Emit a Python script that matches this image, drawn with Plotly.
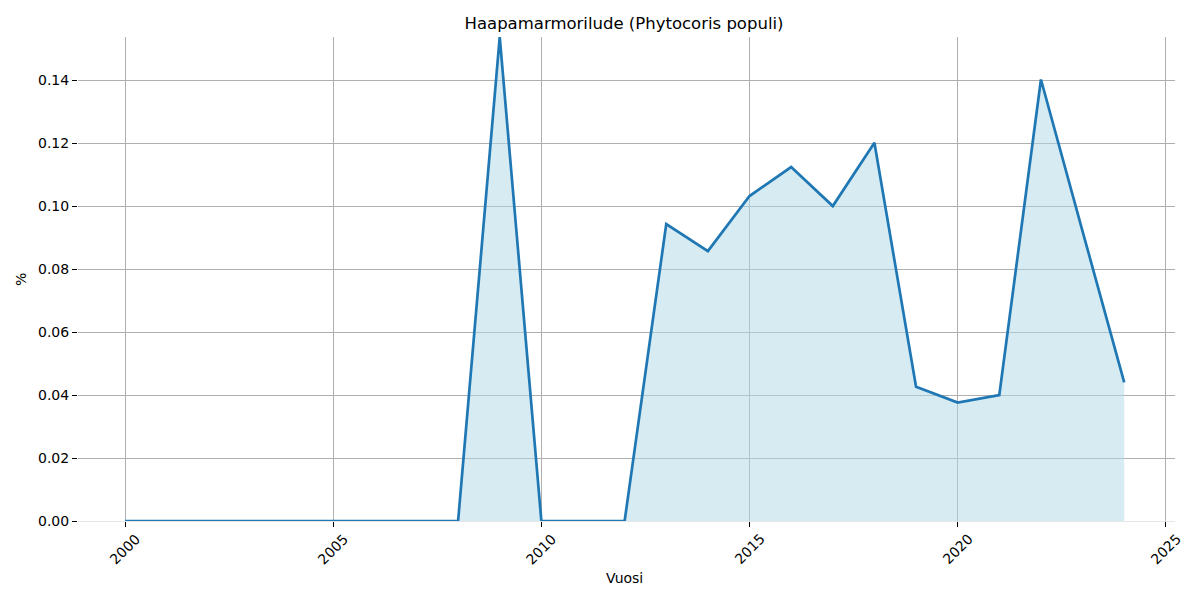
import plotly.graph_objects as go

years = list(range(2000, 2025))
values = [0, 0, 0, 0, 0, 0, 0, 0, 0,
          0.1537, 0, 0, 0,
          0.0943, 0.0857, 0.1032, 0.1124, 0.1000, 0.1201,
          0.0426, 0.0376, 0.0400, 0.1402, 0.0920, 0.0440]

title_text = "Haapamarmorilude (Phytocoris populi)"
x_label = "Vuosi"
y_label = "%"
x_ticks = [2000, 2005, 2010, 2015, 2020, 2025]
y_ticks = [0, 0.02, 0.04, 0.06, 0.08, 0.10, 0.12, 0.14]

fig = go.Figure()
fig.add_trace(go.Scatter(
    x=years, y=values, mode="lines",
    fill="tozeroy", fillcolor="rgba(173,216,230,0.5)",
    line=dict(color="#1f77b4", width=2.7),
    showlegend=False,
))

font = "DejaVu Sans"
L, R, T, B = 78, 25, 37, 79
pw = 1200 - L - R
ph = 600 - T - B

annotations = []
for t in x_ticks:
    annotations.append(dict(
        x=t, xref="x", y=0, yref="paper", yshift=-28,
        text=str(t), showarrow=False, textangle=-45,
        xanchor="center", yanchor="middle",
        font=dict(family=font, size=14, color="black"),
    ))
annotations.append(dict(
    x=(624 - L) / pw, xref="paper", y=-(578 - (600 - B)) / ph, yref="paper",
    text=x_label, showarrow=False, xanchor="center", yanchor="middle",
    font=dict(family=font, size=14, color="black"),
))
annotations.append(dict(
    x=(21 - L) / pw, xref="paper", y=(600 - B - 280) / ph, yref="paper",
    text=y_label, showarrow=False, textangle=-90, xanchor="center", yanchor="middle",
    font=dict(family=font, size=14, color="black"),
))

fig.update_layout(
    width=1200, height=600,
    paper_bgcolor="white", plot_bgcolor="white",
    margin=dict(l=L, r=R, t=T, b=B, autoexpand=False),
    font=dict(family=font, size=14, color="black"),
    title=dict(text=title_text, x=624 / 1200, xref="container", xanchor="center",
               y=1 - 23 / 600, yref="container", yanchor="middle",
               font=dict(family=font, size=16.5, color="black")),
    xaxis=dict(
        range=[1998.87, 2025.22], tickvals=x_ticks, showticklabels=False,
        showgrid=True, gridcolor="#b0b0b0", gridwidth=1,
        ticks="outside", ticklen=5, tickcolor="black", tickwidth=1,
        showline=False, zeroline=False, automargin=False,
    ),
    yaxis=dict(
        range=[0, 0.1537], tickvals=y_ticks, ticktext=[f"{t:.2f}" for t in y_ticks],
        showgrid=True, gridcolor="#b0b0b0", gridwidth=1,
        ticks="outside", ticklen=5, tickcolor="black", tickwidth=1,
        showline=False, zeroline=True, zerolinecolor="#e6e6e6", zerolinewidth=1,
        automargin=False,
        tickfont=dict(family=font, size=14),
    ),
    annotations=annotations,
)

fig.write_html("out.html", config={"displayModeBar": False},
               post_script="document.body.style.margin='0';")
